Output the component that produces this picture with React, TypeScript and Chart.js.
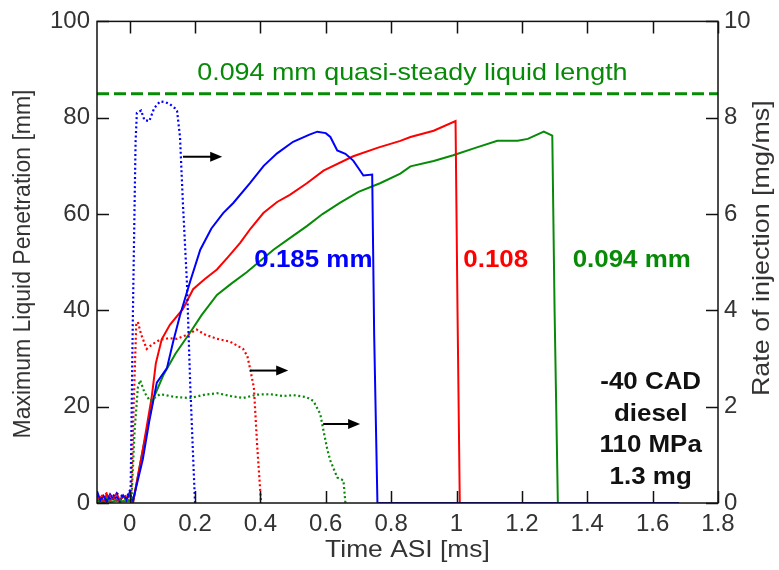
import React, { useEffect, useRef } from "react";
import { Chart, registerables } from "chart.js";

Chart.register(...registerables);

const FONT = '"Liberation Sans", Arial, Helvetica, sans-serif';
const BLUE = "#0000ff";
const RED = "#ff0000";
const GREEN = "#078a07";

// Axis ticks
const xTicks = [0, 0.2, 0.4, 0.6, 0.8, 1, 1.2, 1.4, 1.6, 1.8];
const leftTicks = [0, 20, 40, 60, 80, 100];
const rightTicks = [0, 2, 4, 6, 8, 10];

// Maximum liquid penetration [mm] — 0.185 mm nozzle (blue)
const blueLenT = [-0.1, -0.09, -0.08, -0.07, -0.06, -0.05, -0.04, -0.03, -0.02, -0.01, 0, 0.01, 0.04, 0.06, 0.083, 0.114, 0.133, 0.154, 0.185, 0.216, 0.25, 0.286, 0.317, 0.368, 0.41, 0.451, 0.5, 0.55, 0.574, 0.6, 0.614, 0.635, 0.66, 0.684, 0.7, 0.715, 0.742, 0.748, 0.758, 1.68];
const blueLen = [2.5, 0.5, 1.5, 0.3, 1.8, 0.8, 1.2, 0.4, 1.6, 0.6, 2.2, 0.5, 9, 17, 25, 28, 33.5, 39, 46, 52.6, 57, 60.2, 62.3, 66.4, 70, 72.6, 75, 76.5, 77.1, 76.8, 76, 73.2, 72.5, 71.1, 69.5, 68, 68.2, 35, 0, 0];

// 0.108 mm nozzle (red)
const redLenT = [-0.1, -0.09, -0.08, -0.07, -0.06, -0.05, -0.04, -0.03, -0.02, -0.01, 0, 0.01, 0.04, 0.067, 0.08, 0.098, 0.123, 0.163, 0.194, 0.23, 0.267, 0.3, 0.338, 0.37, 0.409, 0.451, 0.49, 0.542, 0.593, 0.684, 0.76, 0.828, 0.859, 0.93, 0.997, 1.003, 1.01, 1.68];
const redLen = [0.5, 1.2, 0.3, 1.8, 0.6, 1.0, 2.0, 0.5, 1.4, 0.9, 1.6, 0, 11, 21.8, 29, 34, 37, 40.3, 44.4, 46.5, 48.5, 51, 54, 57, 60.2, 62.5, 64, 66.4, 69, 72, 73.8, 75.2, 76, 77.3, 79.3, 40, 0, 0];

// 0.094 mm nozzle (green)
const greenLenT = [-0.1, -0.09, -0.08, -0.07, -0.06, -0.05, -0.04, -0.03, -0.02, -0.01, 0, 0.01, 0.04, 0.073, 0.104, 0.14, 0.186, 0.22, 0.267, 0.31, 0.358, 0.4, 0.44, 0.49, 0.542, 0.59, 0.643, 0.7, 0.766, 0.828, 0.859, 0.93, 0.99, 1.06, 1.125, 1.187, 1.218, 1.267, 1.293, 1.3, 1.31, 1.68];
const greenLen = [0.2, 0.4, 0.1, 0.5, 0.2, 0.3, 0.6, 0.2, 0.4, 0.3, 0.5, 0, 11, 21.8, 26.7, 31, 35.5, 39, 43.2, 45.5, 47.9, 50.3, 52.6, 55, 57.5, 60, 62.3, 64.6, 66.4, 68.4, 69.9, 71, 72.2, 73.8, 75.2, 75.2, 75.6, 77.1, 76.3, 40, 0, 0];

// Rate of injection [mg/ms] (dotted)
const blueRateT = [-0.1, -0.07, -0.04, -0.01, 0.003, 0.01, 0.018, 0.022, 0.035, 0.045, 0.06, 0.075, 0.093, 0.11, 0.123, 0.138, 0.145, 0.154, 0.163, 0.175, 0.185, 0.195, 0.2];
const blueRate = [0.15, 0.05, 0.2, 0.1, 0.3, 4, 7.5, 8.1, 8.15, 7.95, 7.93, 8.2, 8.34, 8.32, 8.28, 8.2, 8.14, 7.6, 6.2, 4.6, 2.5, 0.8, 0];

const redRateT = [-0.1, -0.07, -0.04, -0.01, 0.005, 0.012, 0.02, 0.025, 0.035, 0.052, 0.07, 0.093, 0.12, 0.145, 0.17, 0.194, 0.205, 0.23, 0.267, 0.307, 0.347, 0.36, 0.368, 0.38, 0.39, 0.402];
const redRate = [0.1, 0.2, 0.05, 0.15, 0.2, 2, 3.7, 3.76, 3.5, 3.2, 3.3, 3.39, 3.42, 3.41, 3.48, 3.56, 3.6, 3.5, 3.41, 3.35, 3.2, 3.05, 2.8, 2.4, 1.2, 0];

const greenRateT = [-0.1, -0.07, -0.04, -0.01, 0.005, 0.015, 0.025, 0.032, 0.045, 0.062, 0.093, 0.14, 0.185, 0.23, 0.267, 0.31, 0.347, 0.39, 0.43, 0.47, 0.5, 0.54, 0.562, 0.583, 0.593, 0.605, 0.614, 0.635, 0.654, 0.66];
const greenRate = [0.05, 0.1, 0.05, 0.1, 0, 1.5, 2.4, 2.55, 2.3, 2.12, 2.26, 2.2, 2.18, 2.25, 2.28, 2.22, 2.18, 2.25, 2.26, 2.22, 2.24, 2.2, 2.12, 1.85, 1.5, 1.1, 0.88, 0.53, 0.47, 0];

// Quasi-steady liquid length [mm]
const steadyLength = 85;

// Arrows (time, rate) pointing to the right axis
const arrowFrom = [0.163, 0.368, 0.592];
const arrowTo = [0.283, 0.485, 0.705];
const arrowRate = [7.19, 2.75, 1.64];

// Nozzle labels
const nozzleLabels = ["0.185 mm", "0.108", "0.094 mm"];
const nozzleLabelT = [0.562, 1.12, 1.536];
const nozzleLabelY = 50.4;
const nozzleColors = [BLUE, RED, GREEN];

// Conditions text
const conditionLines = ["-40 CAD", "diesel", "110 MPa", "1.3 mg"];
const conditionT = 1.594;
const conditionY = [25.1, 18.5, 11.9, 5.3];

const steadyText = "0.094 mm quasi-steady liquid length";
const steadyTextT = 0.865;
const steadyTextY = 89.2;

const pts = (t: number[], v: number[]) => t.map((x, i) => ({ x, y: v[i] }));

function drawText(ctx: CanvasRenderingContext2D, text: string, x: number, y: number, font: string, color: string, sx: number, rot = 0) {
  ctx.save();
  ctx.translate(x, y);
  if (rot) ctx.rotate(rot);
  ctx.scale(sx, 1);
  ctx.font = font;
  ctx.fillStyle = color;
  ctx.textAlign = "center";
  ctx.textBaseline = "middle";
  ctx.fillText(text, 0, 0);
  ctx.restore();
}

const decorPlugin = {
  id: "decor",
  afterDatasetsDraw(chart: any) {
    const { ctx, scales } = chart;
    const x = scales.x, y = scales.y, y2 = scales.y2;
    // arrows
    ctx.save();
    ctx.strokeStyle = "#000";
    ctx.fillStyle = "#000";
    ctx.lineWidth = 2;
    for (let i = 0; i < arrowFrom.length; i++) {
      const x0 = x.getPixelForValue(arrowFrom[i]);
      const x1 = x.getPixelForValue(arrowTo[i]);
      const py = y2.getPixelForValue(arrowRate[i]);
      ctx.beginPath();
      ctx.moveTo(x0, py);
      ctx.lineTo(x1 - 10, py);
      ctx.stroke();
      ctx.beginPath();
      ctx.moveTo(x1, py);
      ctx.lineTo(x1 - 12, py - 5);
      ctx.lineTo(x1 - 12, py + 5);
      ctx.closePath();
      ctx.fill();
    }
    ctx.restore();
    // texts
    drawText(ctx, steadyText, x.getPixelForValue(steadyTextT), y.getPixelForValue(steadyTextY), `24px ${FONT}`, GREEN, 1.12);
    nozzleLabels.forEach((s, i) => {
      drawText(ctx, s, x.getPixelForValue(nozzleLabelT[i]), y.getPixelForValue(nozzleLabelY), `bold 24px ${FONT}`, nozzleColors[i], 1.08);
    });
    conditionLines.forEach((s, i) => {
      drawText(ctx, s, x.getPixelForValue(conditionT), y.getPixelForValue(conditionY[i]), `bold 24px ${FONT}`, "#111", 1.08);
    });
  },
  afterDraw(chart: any) {
    const { ctx, chartArea: a, scales } = chart;
    const x = scales.x, y = scales.y, y2 = scales.y2;
    ctx.save();
    ctx.strokeStyle = "#111";
    ctx.lineWidth = 1.5;
    ctx.strokeRect(a.left, a.top, a.right - a.left, a.bottom - a.top);
    const tl = 12;
    ctx.beginPath();
    xTicks.forEach((v) => {
      const px = Math.round(x.getPixelForValue(v)) + 0.5;
      ctx.moveTo(px, a.bottom);
      ctx.lineTo(px, a.bottom - tl);
      ctx.moveTo(px, a.top);
      ctx.lineTo(px, a.top + tl);
    });
    leftTicks.forEach((v) => {
      const py = Math.round(y.getPixelForValue(v)) + 0.5;
      ctx.moveTo(a.left, py);
      ctx.lineTo(a.left + tl, py);
    });
    rightTicks.forEach((v) => {
      const py = Math.round(y2.getPixelForValue(v)) + 0.5;
      ctx.moveTo(a.right, py);
      ctx.lineTo(a.right - tl, py);
    });
    ctx.stroke();
    ctx.restore();
    // axis titles
    drawText(ctx, "Time ASI [ms]", (a.left + a.right) / 2, 550, `24px ${FONT}`, "#333", 1.1);
    drawText(ctx, "Maximum Liquid Penetration [mm]", 24, 264, `23px ${FONT}`, "#333", 1.0, -Math.PI / 2);
    drawText(ctx, "Rate of injection [mg/ms]", 762, (a.top + a.bottom) / 2 - 14, `24px ${FONT}`, "#333", 1.12, -Math.PI / 2);
  },
};

export default function App() {
  const ref = useRef<HTMLCanvasElement>(null);
  useEffect(() => {
    document.body.style.margin = "0";
    const canvas = ref.current!;
    const solid = (label: string, t: number[], v: number[], color: string) => ({
      label, data: pts(t, v), borderColor: color, backgroundColor: color, borderWidth: 2, pointRadius: 0, tension: 0, yAxisID: "y",
    });
    const dotted = (label: string, t: number[], v: number[], color: string) => ({
      label, data: pts(t, v), borderColor: color, backgroundColor: color, borderWidth: 2.2, borderDash: [2, 2.6], pointRadius: 0, tension: 0, yAxisID: "y2",
    });
    const chart = new Chart(canvas, {
      type: "line",
      data: {
        datasets: [
          {
            label: "steady", data: [{ x: -0.1, y: steadyLength }, { x: 1.8, y: steadyLength }],
            borderColor: GREEN, borderWidth: 3, borderDash: [12, 5], pointRadius: 0, yAxisID: "y",
          },
          dotted("blue rate", blueRateT, blueRate, BLUE),
          dotted("red rate", redRateT, redRate, RED),
          dotted("green rate", greenRateT, greenRate, GREEN),
          solid("0.185 mm", blueLenT, blueLen, BLUE),
          solid("0.108 mm", redLenT, redLen, RED),
          solid("0.094 mm", greenLenT, greenLen, GREEN),
        ] as any,
      },
      options: {
        animation: false,
        responsive: false,
        devicePixelRatio: 1,
        layout: { padding: { top: 17, left: 0, right: 0, bottom: 0 } },
        plugins: { legend: { display: false }, tooltip: { enabled: false } },
        scales: {
          x: {
            type: "linear", min: -0.1, max: 1.8,
            afterBuildTicks: (s: any) => { s.ticks = xTicks.map((v) => ({ value: v })); },
            afterFit: (s: any) => { s.height = 67; },
            grid: { display: false, drawTicks: false },
            border: { display: false },
            ticks: {
              autoSkip: false, maxRotation: 0, padding: 7, color: "#333",
              font: { family: FONT, size: 24 },
              callback: (v: any) => String(Math.round(Number(v) * 10) / 10),
            },
          },
          y: {
            type: "linear", position: "left", min: 0, max: 100,
            afterBuildTicks: (s: any) => { s.ticks = leftTicks.map((v) => ({ value: v })); },
            afterFit: (s: any) => { s.width = 97; },
            grid: { display: false, drawTicks: false },
            border: { display: false },
            ticks: { padding: 7, color: "#333", font: { family: FONT, size: 24 } },
          },
          y2: {
            type: "linear", position: "right", min: 0, max: 10,
            afterBuildTicks: (s: any) => { s.ticks = rightTicks.map((v) => ({ value: v })); },
            afterFit: (s: any) => { s.width = 61; },
            grid: { display: false, drawTicks: false },
            border: { display: false },
            ticks: { padding: 6, color: "#333", font: { family: FONT, size: 24 } },
          },
        },
      } as any,
      plugins: [decorPlugin],
    });
    return () => chart.destroy();
  }, []);
  return <canvas ref={ref} width={779} height={570} style={{ display: "block" }} />;
}
